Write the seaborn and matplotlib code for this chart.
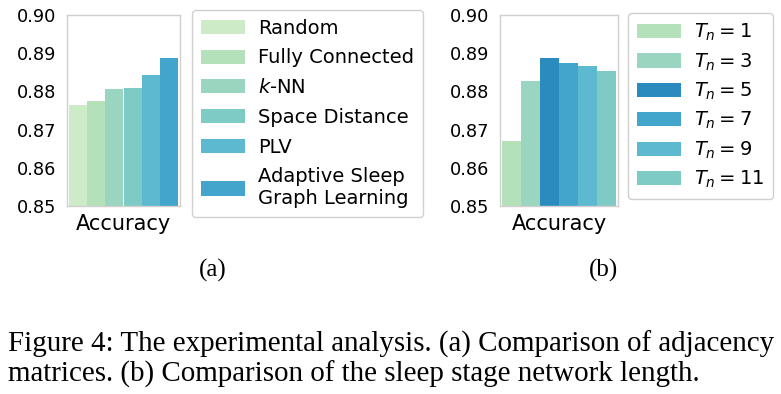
import pandas as pd
import matplotlib.pyplot as plt
import seaborn as sns
from matplotlib.patches import Patch

# panel (a): adjacency matrices
ADJ_METHODS = ["Random", "Fully Connected", "$k$-NN", "Space Distance", "PLV",
               "Adaptive Sleep\nGraph Learning"]
ADJ_ACC = [0.8764, 0.8776, 0.8805, 0.8808, 0.8842, 0.8887]
ADJ_COLORS = ["#ccebc6", "#b4e1ba", "#99d5bf", "#7dcbc4", "#5cb9d0", "#43a4cc"]

# panel (b): sleep stage network length
TN_LABELS = ["$T_n = 1$", "$T_n = 3$", "$T_n = 5$", "$T_n = 7$", "$T_n = 9$", "$T_n = 11$"]
TN_ACC = [0.8671, 0.8827, 0.8887, 0.8874, 0.8866, 0.8853]
TN_COLORS = ["#b4e1ba", "#99d5bf", "#2b8bbe", "#43a4cc", "#5cb9d0", "#7dcbc4"]

YTICKS = [0.85, 0.86, 0.87, 0.88, 0.89, 0.90]

W, H = 781, 394

sns.set_theme(style="whitegrid")
plt.rcParams["font.family"] = ["DejaVu Sans"]
plt.rcParams["text.color"] = "black"
plt.rcParams["xtick.color"] = "black"
plt.rcParams["ytick.color"] = "black"

fig = plt.figure(figsize=(W / 100, H / 100), dpi=100)


def px_axes(left, top, right, bottom):
    return fig.add_axes([left / W, 1 - bottom / H, (right - left) / W, (bottom - top) / H])


def panel(ax, labels, values, colors):
    df = pd.DataFrame({"metric": "Accuracy", "method": labels, "acc": values})
    sns.barplot(data=df, x="metric", y="acc", hue="method", hue_order=labels,
                palette=colors, saturation=1, ax=ax, legend=False, width=0.8,
                linewidth=0)
    ax.set_ylim(0.85, 0.90)
    ax.set_xlim(-0.415, 0.415)
    ax.set_yticks(YTICKS)
    ax.set_yticklabels([f"{t:.2f}" for t in YTICKS], fontsize=12.8)
    ax.tick_params(axis="x", labelsize=15, pad=0)
    ax.tick_params(axis="y", pad=2)
    ax.set_xlabel("")
    ax.set_ylabel("")
    ax.grid(False)
    for s in ax.spines.values():
        s.set_color("#d0d0d0")
        s.set_linewidth(1.0)
    handles = [Patch(facecolor=c, edgecolor="none") for c in colors]
    return handles


ax_a = px_axes(67, 15, 180, 206)
h_a = panel(ax_a, ADJ_METHODS, ADJ_ACC, ADJ_COLORS)
ax_b = px_axes(500, 15, 618, 206)
h_b = panel(ax_b, TN_LABELS, TN_ACC, TN_COLORS)

leg_kw = dict(loc="upper left", fontsize=14, frameon=True, fancybox=True,
              borderaxespad=0, handlelength=2.3, handleheight=0.75,
              handletextpad=0.65, borderpad=0.45,
              edgecolor="#d0d0d0", framealpha=1)
fig.legend(h_a, ADJ_METHODS, bbox_to_anchor=(192 / W, 1 - 10 / H),
           labelspacing=0.55, **leg_kw)
fig.legend(h_b, TN_LABELS, bbox_to_anchor=(628 / W, 1 - 13 / H),
           labelspacing=0.42, **leg_kw)

serif = ["Liberation Serif", "DejaVu Serif"]
fig.text(213 / W, 1 - 277 / H, "(a)", family=serif, fontsize=18, ha="center", va="baseline")
fig.text(603 / W, 1 - 277 / H, "(b)", family=serif, fontsize=18, ha="center", va="baseline")
fig.text(8 / W, 1 - 352 / H, "Figure 4: The experimental analysis. (a) Comparison of adjacency",
         family=serif, fontsize=20.9, ha="left", va="baseline")
fig.text(8 / W, 1 - 382 / H, "matrices. (b) Comparison of the sleep stage network length.",
         family=serif, fontsize=20.9, ha="left", va="baseline")

fig.savefig("out.png", dpi=100)
